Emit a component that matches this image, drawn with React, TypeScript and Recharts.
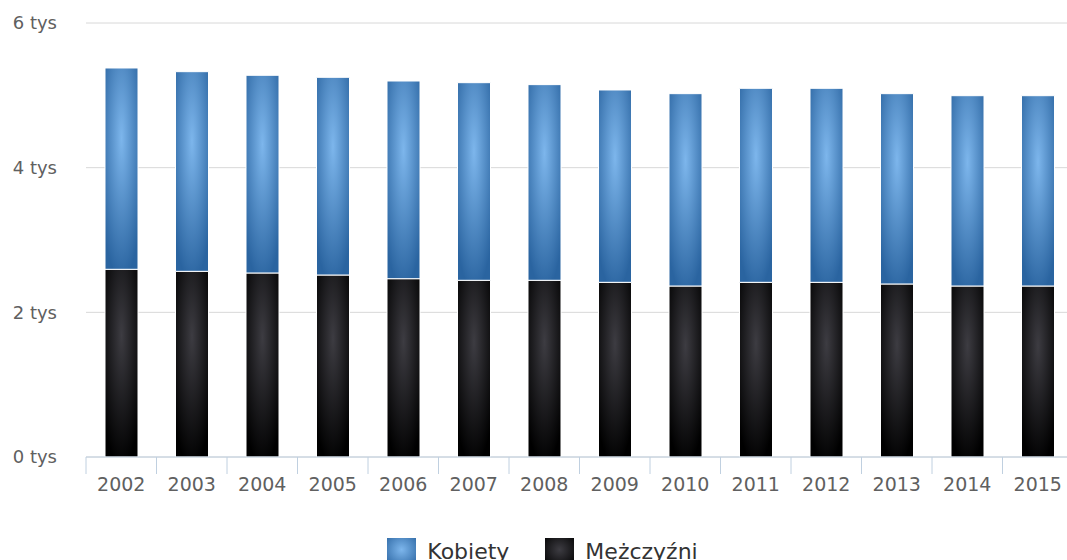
import React from "react";
import { BarChart, Bar, XAxis, YAxis, CartesianGrid, Legend } from "recharts";

const years = ["2002", "2003", "2004", "2005", "2006", "2007", "2008", "2009", "2010", "2011", "2012", "2013", "2014", "2015"];
const kobiety = [2783, 2760, 2733, 2733, 2733, 2732, 2705, 2659, 2659, 2682, 2682, 2631, 2631, 2631];
const mezczyzni = [2595, 2567, 2544, 2516, 2465, 2443, 2443, 2415, 2364, 2415, 2415, 2392, 2364, 2364];
const yTicks = [0, 2000, 4000, 6000];

const data = years.map((year, i) => ({
  year,
  Kobiety: kobiety[i],
  "Mężczyźni": mezczyzni[i],
}));

const FONT = "'DejaVu Sans', Verdana, sans-serif";
const AXIS_COLOR = "#c0d0e0";

const XTick = (props: any) => {
  const { x, y, payload, index } = props;
  const half = payload && payload.offset ? payload.offset : 35;
  return (
    <g>
      <line x1={x - half} x2={x - half} y1={y} y2={y + 17} stroke={AXIS_COLOR} strokeWidth={1} />
      {index === years.length - 1 && (
        <line x1={x + half} x2={x + half} y1={y} y2={y + 17} stroke={AXIS_COLOR} strokeWidth={1} />
      )}
      <text x={x} y={y + 34} textAnchor="middle" fill="#606060" fontSize={19} fontFamily={FONT}>
        {payload.value}
      </text>
    </g>
  );
};

const legendItems = [
  { name: "Kobiety", grad: "lgBlue", c0: "#7db6ec", c1: "#2a64a0" },
  { name: "Mężczyźni", grad: "lgBlack", c0: "#3d3c42", c1: "#000000" },
];

const LegendContent = () => (
  <div style={{ display: "flex", justifyContent: "center", alignItems: "flex-start", fontFamily: FONT, paddingLeft: 18 }}>
    {legendItems.map((it, i) => (
      <div key={it.name} style={{ display: "flex", alignItems: "flex-start", marginLeft: i === 0 ? 0 : 36 }}>
        <svg width={29} height={29} style={{ display: "block" }}>
          <defs>
            <radialGradient id={it.grad} cx="0.5" cy="0.4" r="0.75">
              <stop offset="0" stopColor={it.c0} />
              <stop offset="1" stopColor={it.c1} />
            </radialGradient>
          </defs>
          <rect x={0} y={0} width={29} height={29} fill={`url(#${it.grad})`} />
        </svg>
        <span style={{ marginLeft: 11, fontSize: 22, color: "#333333", lineHeight: "26px", marginTop: 1 }}>
          {it.name}
        </span>
      </div>
    ))}
  </div>
);

export default function App() {
  return (
    <div style={{ position: "absolute", left: 0, top: 0, width: 1067, height: 560, overflow: "hidden", background: "#fff" }}>
      <BarChart
        width={1074}
        height={560}
        data={data}
        barSize={33}
        margin={{ top: 23, right: 1, left: 0, bottom: 63 }}
      >
        <defs>
          <radialGradient id="gBlue" cx="0.5" cy="0.35" r="0.7">
            <stop offset="0" stopColor="#7db6ec" />
            <stop offset="1" stopColor="#2a64a0" />
          </radialGradient>
          <radialGradient id="gBlack" cx="0.5" cy="0.35" r="0.7">
            <stop offset="0" stopColor="#3d3c42" />
            <stop offset="1" stopColor="#000000" />
          </radialGradient>
        </defs>
        <CartesianGrid vertical={false} stroke="#d8d8d8" strokeWidth={1} />
        <XAxis
          dataKey="year"
          height={40}
          axisLine={{ stroke: AXIS_COLOR }}
          tickLine={false}
          tickSize={0}
          tickMargin={0}
          interval={0}
          tick={<XTick />}
        />
        <YAxis
          width={86}
          domain={[0, 6000]}
          ticks={yTicks}
          axisLine={false}
          tickLine={false}
          tickSize={0}
          tickMargin={29}
          tickFormatter={(v: number) => `${v / 1000} tys`}
          tick={{ fill: "#606060", fontSize: 18, fontFamily: FONT }}
        />
        <Legend
          layout="horizontal"
          verticalAlign="middle"
          align="center"
          content={<LegendContent />}
          wrapperStyle={{ top: 538, left: 0, width: 1067 }}
        />
        <Bar dataKey="Mężczyźni" stackId="a" fill="url(#gBlack)" stroke="#ffffff" strokeWidth={1} isAnimationActive={false} />
        <Bar dataKey="Kobiety" stackId="a" fill="url(#gBlue)" stroke="#ffffff" strokeWidth={1} isAnimationActive={false} />
      </BarChart>
    </div>
  );
}
